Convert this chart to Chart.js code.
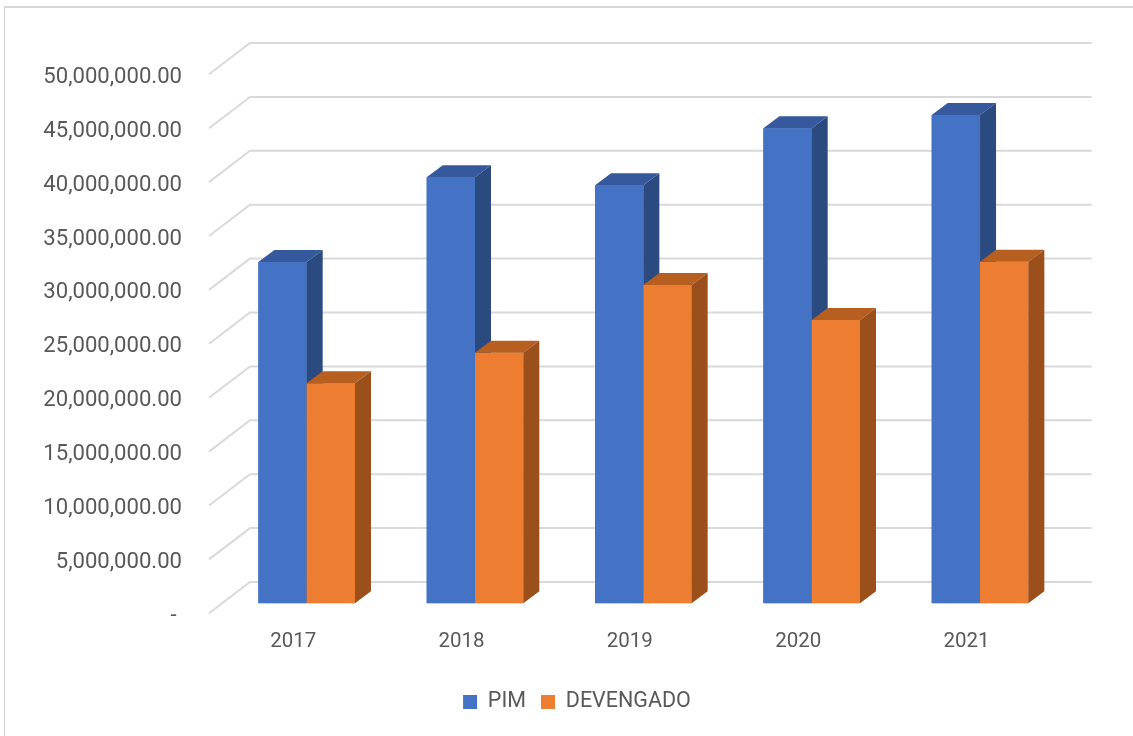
<!DOCTYPE html>
<html>
<head>
<meta charset="utf-8">
<script src="https://cdn.jsdelivr.net/npm/chart.js@4.4.1/dist/chart.umd.min.js"></script>
<style>
  html, body { margin: 0; padding: 0; background: #fff; }
  #wrap { position: relative; width: 1133px; height: 736px; overflow: hidden; }
  #frame { position: absolute; left: 4px; top: 6px; width: 1200px; height: 800px; border-left: 1px solid #d4d4d4; border-top: 2px solid #d9d9d9; }
  canvas { position: absolute; left: 0; top: 0; }
</style>
</head>
<body>
<div id="wrap">
  <div id="frame"></div>
  <canvas id="budgetChart" width="1133" height="736"></canvas>
</div>
<script>
// Data
const years = ['2017', '2018', '2019', '2020', '2021'];
const pimValues = [31660000, 39520000, 38770000, 44060000, 45300000];
const devengadoValues = [20410000, 23250000, 29530000, 26280000, 31690000];
const yMax = 50000000;
const yStep = 5000000;

// Face colours for the fake 3D columns: front, top, side
const faces = [
    { front: '#4472C4', top: '#35599C', side: '#2B4A80' },
    { front: '#ED7D31', top: '#B65F21', side: '#9B4F1A' }
];
const depth = { dx: 16, dy: -12 };        // column depth
const wall = { dx: 27.5, dy: -21.3 };     // back wall relative to bar plane
const floorEdge = { dx: -13.5, dy: 10 };  // front edge of the floor

// accounting style: zero shows as a dash
function formatTick(v) {
    if (v === 0) return '- ';
    return v.toLocaleString('en-US', { minimumFractionDigits: 2, maximumFractionDigits: 2 });
}

// Gridlines on the back wall and the side wall, then the columns
const wallPlugin = {
    id: 'wallPlugin',
    beforeDatasetsDraw(chart) {
        const ctx = chart.ctx;
        const area = chart.chartArea;
        const yScale = chart.scales.y;
        ctx.save();
        ctx.strokeStyle = '#d9d9d9';
        ctx.lineWidth = 2;
        for (let v = 0; v <= yMax; v += yStep) {
            const y = yScale.getPixelForValue(v);
            ctx.beginPath();
            ctx.moveTo(area.left + floorEdge.dx, y + floorEdge.dy);
            ctx.lineTo(area.left + wall.dx, y + wall.dy);
            ctx.lineTo(area.right + wall.dx, y + wall.dy);
            ctx.stroke();
        }
        ctx.restore();
    },
    // redraw columns in depth order with top and side faces
    afterDatasetsDraw(chart) {
        const ctx = chart.ctx;
        ctx.save();
        years.forEach((yr, i) => {
            [0, 1].forEach(d => {
                const bar = chart.getDatasetMeta(d).data[i];
                const p = bar.getProps(['x', 'y', 'base', 'width'], true);
                const l = p.x - p.width / 2;
                const r = p.x + p.width / 2;
                const c = faces[d];
                ctx.fillStyle = c.front;
                ctx.fillRect(l, p.y, r - l, p.base - p.y);
                ctx.fillStyle = c.top;
                ctx.beginPath();
                ctx.moveTo(l, p.y);
                ctx.lineTo(l + depth.dx, p.y + depth.dy);
                ctx.lineTo(r + depth.dx, p.y + depth.dy);
                ctx.lineTo(r, p.y);
                ctx.closePath();
                ctx.fill();
                ctx.fillStyle = c.side;
                ctx.beginPath();
                ctx.moveTo(r, p.y);
                ctx.lineTo(r + depth.dx, p.y + depth.dy);
                ctx.lineTo(r + depth.dx, p.base + depth.dy);
                ctx.lineTo(r, p.base);
                ctx.closePath();
                ctx.fill();
            });
        });
        ctx.restore();
    }
};

document.addEventListener('DOMContentLoaded', function() {
    const ctx = document.getElementById('budgetChart').getContext('2d');
    const fontFamily = "Roboto, 'Noto Sans', sans-serif";

    // size the value labels so the widest one is about 139px, as in the picture
    ctx.font = '20px ' + fontFamily;
    const w = ctx.measureText(formatTick(yMax)).width;
    const yFontSize = Math.round(20 * 139 / w * 10) / 10;

    new Chart(ctx, {
        type: 'bar',
        data: {
            labels: years,
            datasets: [{
                label: 'PIM',
                data: pimValues,
                backgroundColor: faces[0].front
            },
            {
                label: 'DEVENGADO',
                data: devengadoValues,
                backgroundColor: faces[1].front
            }]
        },
        options: {
            responsive: false,
            animation: false,
            barPercentage: 1,
            categoryPercentage: 0.574,
            layout: {
                padding: { top: 64.3, left: 21, right: 0, bottom: 13.25 }
            },
            scales: {
                x: {
                    grid: { display: false, drawTicks: false },
                    border: { display: false },
                    ticks: {
                        color: '#595959',
                        font: { family: fontFamily, size: 20.5 },
                        padding: 26.7,
                        labelOffset: -13.5,
                        maxRotation: 0
                    },
                    afterFit(scale) { scale.height = 72.95; }
                },
                y: {
                    min: 0,
                    max: yMax,
                    grid: { display: false, drawTicks: false },
                    border: { display: false },
                    ticks: {
                        stepSize: yStep,
                        autoSkip: false,
                        color: '#595959',
                        font: { family: fontFamily, size: yFontSize },
                        padding: 40.5,
                        labelOffset: 13,
                        callback: formatTick
                    },
                    afterFit(scale) { scale.width = 201.5; }
                },
                // empty right axis that only reserves room for the wall depth
                yRight: {
                    position: 'right',
                    grid: { display: false, drawTicks: false },
                    border: { display: false },
                    ticks: { display: false },
                    afterFit(scale) { scale.width = 68.8; }
                }
            },
            plugins: {
                legend: {
                    position: 'bottom',
                    labels: {
                        boxWidth: 14,
                        boxHeight: 14,
                        padding: 15,
                        color: '#595959',
                        font: { family: fontFamily, size: 21.5 }
                    }
                },
                tooltip: { enabled: false }
            }
        },
        plugins: [wallPlugin]
    });
});
</script>
</body>
</html>
